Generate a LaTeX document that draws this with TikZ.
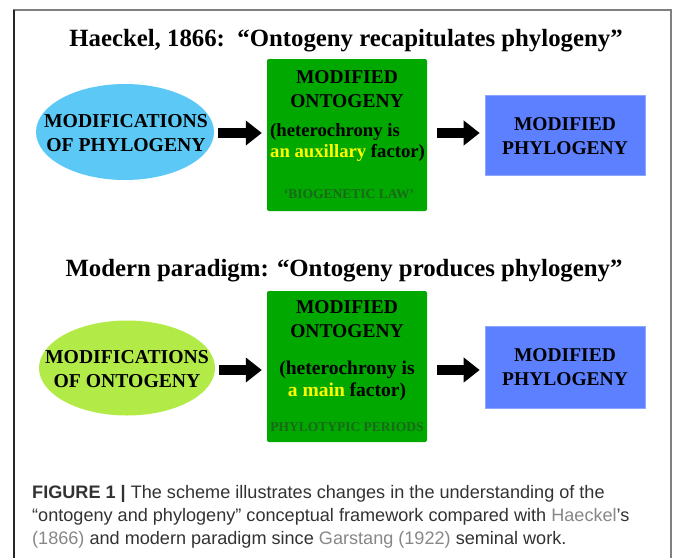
\documentclass[tikz,border=0pt]{standalone}
\usepackage{fontspec}
\setmainfont{Liberation Serif}
\newfontfamily\capfont{Liberation Sans}
\usetikzlibrary{shapes.geometric,arrows.meta}
\definecolor{skyb}{RGB}{92,200,245}
\definecolor{limeg}{RGB}{178,234,72}
\definecolor{boxg}{RGB}{0,168,0}
\definecolor{boxb}{RGB}{92,128,255}
\definecolor{dkg}{RGB}{25,105,25}
\definecolor{yel}{RGB}{255,255,0}
\definecolor{capgray}{RGB}{135,135,135}
\definecolor{captext}{RGB}{50,50,50}
\begin{document}
\begin{tikzpicture}[x=1pt,y=-1pt,
  ell/.style={ellipse, inner sep=0pt, minimum width=178pt, minimum height=96pt},
  elltxt/.style={inner sep=0pt, align=center, font=\bfseries\fontsize{19.7}{24}\selectfont},
  gbox/.style={fill=boxg, rounded corners=2pt, minimum width=160pt, inner sep=0pt},
  bbox/.style={fill=boxb, draw=boxb!70!white, line width=0.6pt, minimum width=160pt, inner sep=0pt},
  txt/.style={font=\bfseries\fontsize{19.5}{24}\selectfont, inner sep=0pt, anchor=base},
  narrowtxt/.style={font=\bfseries\fontsize{18.7}{24}\selectfont, inner sep=0pt, anchor=base west},
  smalltxt/.style={font=\bfseries\fontsize{13.5}{15}\selectfont, inner sep=0pt, anchor=base, text=dkg},
  ttl/.style={font=\bfseries\fontsize{24.8}{28}\selectfont, inner sep=0pt, anchor=base},
  captxt/.style={font=\capfont\fontsize{18.1}{23}\selectfont, inner sep=0pt, anchor=base west, text=captext},
  blk/.style={line width=10pt, -{Triangle[length=16pt,width=24pt]}},
  frameline/.style={line width=1.5pt}
  ]
\useasboundingbox (0,0) rectangle (673,558);
% frame
\draw[frameline, black!50] (14,558) -- (14,10) -- (671,10) -- (671,558);
\draw[frameline, black!85] (14,558) -- (14,10);

% ---- top row
\node[ttl] (t1) at (346,46) {Haeckel, 1866:\ \ “Ontogeny recapitulates phylogeny”};
\node[ell, fill=skyb] (e1) at (125,132) {};
\node[elltxt] (e1t) at (126,133) {MODIFICATIONS\\OF PHYLOGENY};
\node[gbox, minimum height=152pt] (g1) at (347,135) {};
\node[txt] (g1a) at (347,83) {MODIFIED};
\node[txt] (g1b) at (347,107) {ONTOGENY};
\node[narrowtxt] (g1c) at (270,136) {(heterochrony is};
\node[narrowtxt] (g1d) at (270,157) {\textcolor{yel}{an auxillary} factor)};
\node[smalltxt] (g1e) at (349,198) {‘BIOGENETIC LAW’};
\node[bbox, minimum height=80pt] (b1) at (565,135) {};
\node[txt] (b1a) at (565,130) {MODIFIED};
\node[txt] (b1b) at (565,154) {PHYLOGENY};
\coordinate (r1) at (0,133);
\draw[blk, shorten <=4pt, shorten >=5pt] (e1.east |- r1) -- (g1.west |- r1);
\draw[blk, shorten <=10pt, shorten >=5pt] (g1.east |- r1) -- (b1.west |- r1);

% ---- bottom row
\node[ttl] (t2) at (344,276) {Modern paradigm: “Ontogeny produces phylogeny”};
\node[ell, fill=limeg, minimum width=176pt, minimum height=95pt] (e2) at (127,368) {};
\node[elltxt] (e2t) at (127,369) {MODIFICATIONS\\OF ONTOGENY};
\node[gbox, minimum height=151pt] (g2) at (347,366.5) {};
\node[txt] (g2a) at (347,313) {MODIFIED};
\node[txt] (g2b) at (347,337) {ONTOGENY};
\node[txt] (g2c) at (347,374) {(heterochrony is};
\node[txt] (g2d) at (347,396) {\textcolor{yel}{a main} factor)};
\node[smalltxt] (g2e) at (347,431) {PHYLOTYPIC PERIODS};
\node[bbox, minimum height=82pt] (b2) at (565,367) {};
\node[txt] (b2a) at (565,361) {MODIFIED};
\node[txt] (b2b) at (565,385) {PHYLOGENY};
\coordinate (r2) at (0,370);
\draw[blk, shorten <=4pt, shorten >=5pt] (e2.east |- r2) -- (g2.west |- r2);
\draw[blk, shorten <=10pt, shorten >=5pt] (g2.east |- r2) -- (b2.west |- r2);

% ---- caption
\node[captxt] (c1) at (32,498) {\textbf{FIGURE 1 |} The scheme illustrates changes in the understanding of the};
\node[captxt] (c2) at (32,521) {“ontogeny and phylogeny” conceptual framework compared with \textcolor{capgray}{Haeckel}’s};
\node[captxt] (c3) at (32,544) {\textcolor{capgray}{(1866)} and modern paradigm since \textcolor{capgray}{Garstang (1922)} seminal work.};
\end{tikzpicture}
\end{document}
